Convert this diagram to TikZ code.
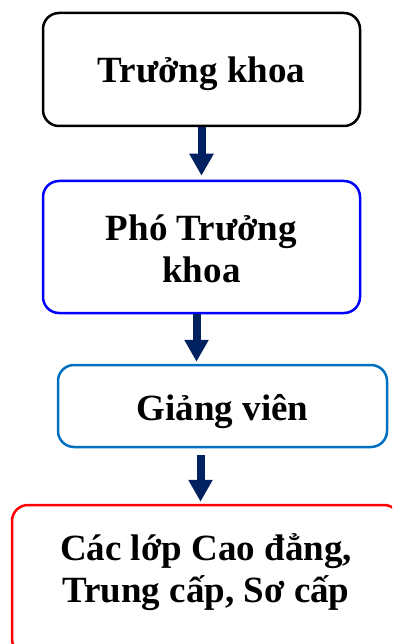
\documentclass[tikz,border=0pt]{standalone}
\usepackage{fontspec}
\setmainfont{Liberation Serif}
\usetikzlibrary{arrows.meta}
\definecolor{navy}{HTML}{002060}
\definecolor{midblue}{HTML}{0070C0}
\newcommand{\twolines}[2]{\begin{tabular}[t]{@{}c@{}}#1\\#2\end{tabular}}
\begin{document}
\begin{tikzpicture}[x=1pt,y=-1pt,
  box/.style={rounded corners=16pt, line width=2.5pt, inner sep=0pt,
    font=\fontsize{37}{42}\selectfont\bfseries},
  fatarrow/.style={draw=navy, line width=8pt, -{Triangle[width=23pt,length=22pt]}}]
\useasboundingbox (0,0) rectangle (392,644);
\clip (0,0) rectangle (392,644);
\node[box, draw=black, minimum width=317pt, minimum height=113pt,
  text height=70pt, text depth=43pt] (b1) at (201.5,69.5) {Trưởng khoa};
\node[box, draw=blue, minimum width=317pt, minimum height=132pt,
  text height=59pt, text depth=73pt] (b2) at (201.5,247) {\twolines{Phó Trưởng}{khoa}};
\node[box, draw=midblue, minimum width=329pt, minimum height=82pt,
  text height=55pt, text depth=27pt] (b3) at (222.5,406) {Giảng viên};
\node[box, draw=red, minimum width=388pt, minimum height=150pt,
  text height=55pt, text depth=95pt] (b4) at (206,580) {\twolines{Các lớp Cao đẳng,}{Trung cấp, Sơ cấp}};
\draw[fatarrow, shorten >=4pt] (b1.south) -- (b2.north);
\draw[fatarrow, shorten >=2pt] ([xshift=-5pt]b2.south) -- ([xshift=-5pt]b2.south |- b3.north);
\draw[fatarrow, shorten <=7pt, shorten >=2pt] ([xshift=-22pt]b3.south) -- ([xshift=-22pt]b3.south |- b4.north);
\end{tikzpicture}
\end{document}
